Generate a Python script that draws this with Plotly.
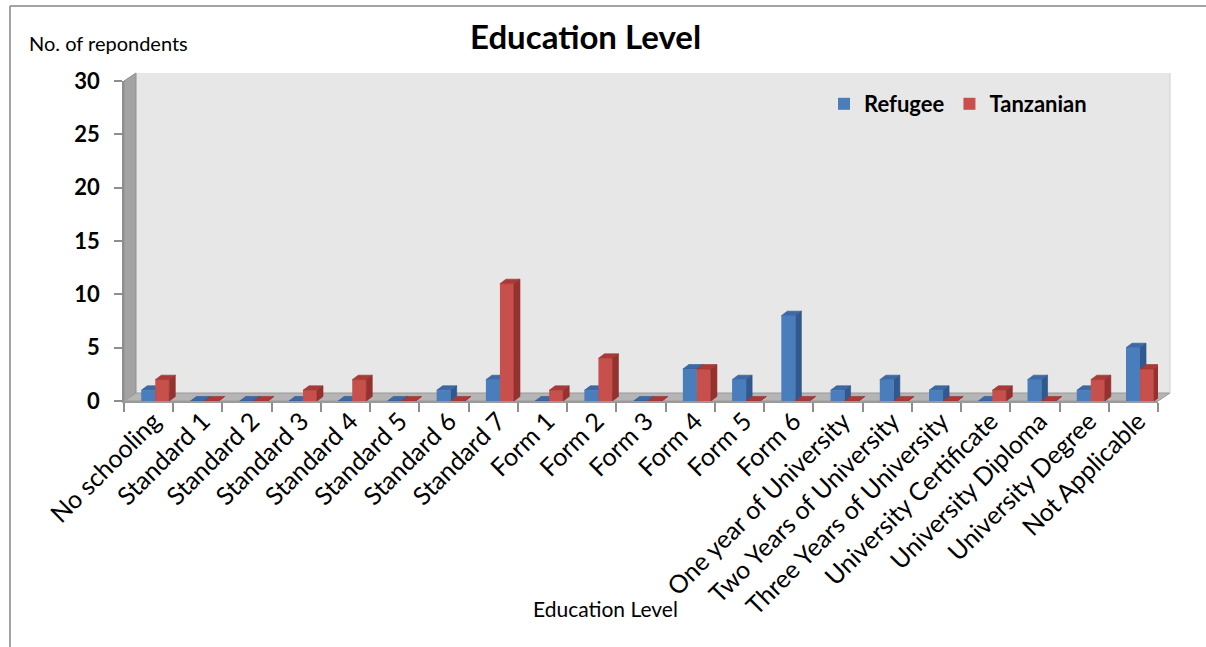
import plotly.graph_objects as go

# ---- data -------------------------------------------------------------
categories = [
    "No schooling", "Standard 1", "Standard 2", "Standard 3", "Standard 4",
    "Standard 5", "Standard 6", "Standard 7", "Form 1", "Form 2", "Form 3",
    "Form 4", "Form 5", "Form 6", "One year of University",
    "Two Years of University", "Three Years of University",
    "University Certificate", "University Diploma", "University Degree",
    "Not Applicable",
]
refugee = [1, 0, 0, 0, 0, 0, 1, 2, 0, 1, 0, 3, 2, 8, 1, 2, 1, 0, 2, 1, 5]
tanzanian = [2, 0, 0, 1, 2, 0, 0, 11, 1, 4, 0, 3, 0, 0, 0, 0, 0, 1, 0, 2, 3]
y_ticks = [0, 5, 10, 15, 20, 25, 30]

# ---- geometry helpers (pixel -> paper) --------------------------------
W, H = 1206, 647
def px(x):
    return x / W
def py(y):
    return 1 - y / H

FX0, FX1 = 124, 1158      # front plane, left/right
FY0, FY1 = 401, 81        # front plane, value 0 / value 30
DX, DY = 12, 8            # depth of the chart box

n = len(categories)
xs = list(range(n))
ymax = y_ticks[-1]

# bar depth in axis units
unit_x = (FX1 - FX0) / n
unit_y = (FY0 - FY1) / ymax
bdx = 6 / unit_x
bdy = 4.5 / unit_y
bw = 0.285
off_blue = -0.15
off_red = off_blue + bw

FONT = "Lato"

def faces(values, offset):
    """Side and top faces of the 3-D columns as closed polygons."""
    side_x, side_y, top_x, top_y = [], [], [], []
    for i, v in zip(xs, values):
        xl = i + offset
        xr = xl + bw
        side_x += [xr, xr + bdx, xr + bdx, xr, xr, None]
        side_y += [0, bdy, v + bdy, v, 0, None]
        top_x += [xl, xl + bdx, xr + bdx, xr, xl, None]
        top_y += [v, v + bdy, v + bdy, v, v, None]
    return side_x, side_y, top_x, top_y

fig = go.Figure()

# Refugee column faces sit underneath the Tanzanian columns
bsx, bsy, btx, bty = faces(refugee, off_blue)
fig.add_trace(go.Scatter(x=bsx, y=bsy, xaxis="x2", yaxis="y2", mode="lines",
                         fill="toself", fillcolor="#30598f",
                         line=dict(color="#2b5182", width=0.6),
                         showlegend=False, hoverinfo="skip"))
fig.add_trace(go.Scatter(x=btx, y=bty, xaxis="x2", yaxis="y2", mode="lines",
                         fill="toself", fillcolor="#3c6aa7",
                         line=dict(color="#2f5a92", width=0.6),
                         showlegend=False, hoverinfo="skip"))

# front faces
fig.add_trace(go.Bar(x=xs, y=refugee, name="Refugee", xaxis="x3", yaxis="y3",
                     offset=off_blue, width=bw,
                     marker=dict(color="#4a7dbc", line=dict(width=0))))
fig.add_trace(go.Bar(x=xs, y=tanzanian, name="Tanzanian", xaxis="x3", yaxis="y3",
                     offset=off_red, width=bw,
                     marker=dict(color="#c7504c", line=dict(width=0))))

rsx, rsy, rtx, rty = faces(tanzanian, off_red)
fig.add_trace(go.Scatter(x=rsx, y=rsy, xaxis="x3", yaxis="y3", mode="lines",
                         fill="toself", fillcolor="#97312e",
                         line=dict(color="#872a27", width=0.6),
                         showlegend=False, hoverinfo="skip"))
fig.add_trace(go.Scatter(x=rtx, y=rty, xaxis="x3", yaxis="y3", mode="lines",
                         fill="toself", fillcolor="#ab3a37",
                         line=dict(color="#983330", width=0.6),
                         showlegend=False, hoverinfo="skip"))

xr = [-0.5, n - 0.5]
yr = [0, ymax]

# chart box: back wall, left wall and floor
def poly(pts):
    return "M " + " L ".join(f"{px(a)},{py(b)}" for a, b in pts) + " Z"

shapes = [
    dict(type="rect", xref="paper", yref="paper", layer="below",
         x0=px(FX0 + DX), x1=px(FX1 + DX), y0=py(FY0 - DY), y1=py(FY1 - DY),
         fillcolor="#e7e7e7", line=dict(width=0)),
    dict(type="path", xref="paper", yref="paper", layer="below",
         path=poly([(FX0, FY0), (FX0, FY1), (FX0 + DX, FY1 - DY), (FX0 + DX, FY0 - DY)]),
         fillcolor="#a3a3a3", line=dict(color="#8f8f8f", width=1)),
    dict(type="path", xref="paper", yref="paper", layer="below",
         path=poly([(FX0, FY0), (FX1, FY0), (FX1 + DX, FY0 - DY), (FX0 + DX, FY0 - DY)]),
         fillcolor="#b5b5b5", line=dict(color="#9a9a9a", width=1)),
    dict(type="line", xref="paper", yref="paper", layer="below",
         x0=px(FX1 + DX), x1=px(FX1 + DX), y0=py(FY0 - DY), y1=py(FY1 - DY),
         line=dict(color="#d0d0d0", width=1)),
    # outer chart border
    dict(type="line", xref="paper", yref="paper",
         x0=px(10), x1=px(10), y0=py(6), y1=0,
         line=dict(color="#868686", width=1.5)),
    dict(type="line", xref="paper", yref="paper",
         x0=px(10), x1=1, y0=py(6), y1=py(6),
         line=dict(color="#868686", width=1.5)),
]

annotations = [
    dict(text="<b>Education Level</b>", x=px(585), y=py(36), xref="paper", yref="paper",
         showarrow=False, xanchor="center", yanchor="middle",
         font=dict(family=FONT, size=33, color="#000000")),
    dict(text="No. of repondents", x=px(27), y=py(43), xref="paper", yref="paper",
         showarrow=False, xanchor="left", yanchor="middle",
         font=dict(family=FONT, size=20, color="#000000")),
    dict(text="Education Level", x=px(605), y=py(608), xref="paper", yref="paper",
         showarrow=False, xanchor="center", yanchor="middle",
         font=dict(family=FONT, size=21, color="#000000")),
]

fig.update_layout(
    width=W, height=H,
    margin=dict(l=0, r=0, t=0, b=0),
    paper_bgcolor="#ffffff",
    plot_bgcolor="rgba(0,0,0,0)",
    barmode="overlay",
    shapes=shapes,
    annotations=annotations,
    showlegend=True,
    legend=dict(orientation="h", x=px(824), y=py(104), xanchor="left", yanchor="middle",
                bgcolor="rgba(0,0,0,0)",
                font=dict(family=FONT, size=22, color="#000000", weight="bold"),
                traceorder="normal", itemwidth=30),
    # back wall (grid only)
    xaxis=dict(domain=[px(FX0 + DX), px(FX1 + DX)], range=xr, visible=False,
               anchor="y"),
    yaxis=dict(domain=[py(FY0 - DY), py(FY1 - DY)], range=yr, anchor="x",
               tickvals=y_ticks, showgrid=True, gridcolor="#8e8e8e", gridwidth=2.5,
               showticklabels=False, ticks="", zeroline=False, showline=False),
    # front plane
    xaxis2=dict(domain=[px(FX0), px(FX1)], range=xr, anchor="y2",
                tickvals=xs, ticktext=categories, tickangle=-45, ticks="",
                ticklabelstandoff=-6, ticklabelshift=5,
                minor=dict(tickvals=[i - 0.5 for i in range(n + 1)], ticks="outside",
                           ticklen=9, tickcolor="#8e8e8e", tickwidth=1.5),
                showline=True, linecolor="#9a9a9a", linewidth=1.5,
                showgrid=False, zeroline=False, automargin=False,
                tickfont=dict(family=FONT, size=25, color="#000000")),
    yaxis2=dict(domain=[py(FY0), py(FY1)], range=yr, anchor="x2",
                tickvals=y_ticks, ticktext=[f"<b>{v}</b>" for v in y_ticks],
                ticks="outside", ticklen=8, tickcolor="#8e8e8e", tickwidth=1.5,
                ticklabelstandoff=10,
                showline=True, linecolor="#8e8e8e", linewidth=1.5,
                showgrid=False, zeroline=False, automargin=False,
                tickfont=dict(family=FONT, size=22, color="#000000")),
    xaxis3=dict(overlaying="x2", range=xr, visible=False, anchor="y3"),
    yaxis3=dict(overlaying="y2", range=yr, visible=False, anchor="x3"),
)

fig.write_html("out.html")
